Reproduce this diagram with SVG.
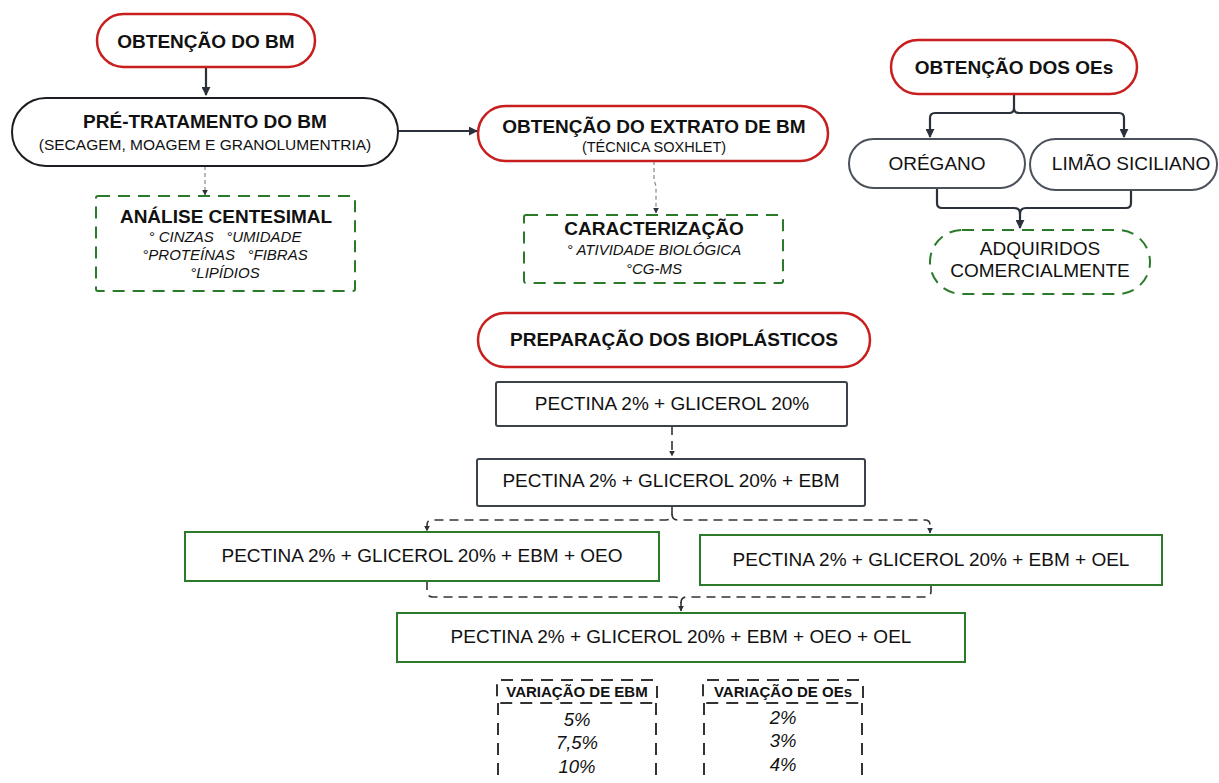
<svg xmlns="http://www.w3.org/2000/svg" width="1219" height="783" viewBox="0 0 1219 783">
<style>
.t{font-family:"Liberation Sans",Arial,sans-serif;fill:#111;text-anchor:middle}
.b{font-weight:bold;font-size:19px}
.r{font-size:19px}
.s{font-size:15px}
.i{font-style:italic;font-size:15px}
.red{fill:#fff;stroke:#c81e1e;stroke-width:2.5}
.blk{fill:#fff;stroke:#1a1d22;stroke-width:2}
.gry{fill:#fff;stroke:#4a515b;stroke-width:2}
.grnd{fill:#fff;stroke:#2a7a2a;stroke-width:2;stroke-dasharray:12 8}
.grn{fill:#fff;stroke:#2a7a2a;stroke-width:2}
.box{fill:#fff;stroke:#3b424c;stroke-width:2}
.c{fill:none;stroke:#2a313b;stroke-width:2.2}
.cd{fill:none;stroke:#333;stroke-width:1.6;stroke-dasharray:9 6}
.cg{fill:none;stroke:#888;stroke-width:1.2;stroke-dasharray:4 3}
.vd{fill:none;stroke:#333;stroke-width:2;stroke-dasharray:12 8}
</style>
<defs>
<marker id="a" viewBox="0 0 10 10" refX="9" refY="5" markerWidth="6" markerHeight="6" orient="auto" markerUnits="userSpaceOnUse"><path d="M0,0 L10,5 L0,10 z" fill="#2a313b"/></marker>
<marker id="al" viewBox="0 0 10 10" refX="9" refY="5" markerWidth="9" markerHeight="9" orient="auto" markerUnits="userSpaceOnUse"><path d="M0,0 L10,5 L0,10 z" fill="#2a313b"/></marker>
</defs>
<g id="connectors">
<path class="c" d="M206,67 V95" marker-end="url(#al)"/>
<path class="c" d="M398,131 H477" marker-end="url(#al)"/>
<path class="cg" d="M205,166 V195" marker-end="url(#a)"/>
<path class="cg" d="M654,161 V180 L656,186 V213" marker-end="url(#a)"/>
<path class="c" d="M1014,94 V108 Q1014,113 1009,113 H935 Q930,113 930,118 V137" marker-end="url(#al)"/>
<path class="c" d="M1014,108 Q1014,113 1019,113 H1119 Q1124,113 1124,118 V137" marker-end="url(#al)"/>
<path class="c" d="M937,188 V203 Q937,208 942,208 H1014 Q1020,208 1020,214 V228" marker-end="url(#al)"/>
<path class="c" d="M1131,190 V203 Q1131,208 1126,208 H1026 Q1020,208 1020,214"/>
<path class="cd" d="M672,426 V456" marker-end="url(#a)"/>
<path class="cd" d="M672,506 V514 Q672,520 666,520 H432 Q427,520 427,525 V531" marker-end="url(#a)"/>
<path class="cd" d="M672,514 Q672,520 678,520 H925 Q930,520 930,525 V533" marker-end="url(#a)"/>
<path class="cd" d="M427,581 V591 Q427,597 433,597 H675 Q681,597 681,603 V611" marker-end="url(#a)"/>
<path class="cd" d="M931,585 V591 Q931,597 925,597 H687 Q681,597 681,603"/>
</g>
<g id="obtencao-bm">
<rect class="red" x="97" y="14" width="218" height="53" rx="26.5"/>
<text class="t b" x="206" y="48">OBTENÇÃO DO BM</text>
</g>
<g id="pre-tratamento">
<rect class="blk" x="12" y="98" width="386" height="68" rx="34"/>
<text class="t b" x="205" y="128">PRÉ-TRATAMENTO DO BM</text>
<text class="t" x="205" y="150" style="font-size:15.5px">(SECAGEM, MOAGEM E GRANOLUMENTRIA)</text>
</g>
<g id="extrato">
<rect class="red" x="478" y="106" width="350" height="55" rx="27.5"/>
<text class="t b" x="654" y="133">OBTENÇÃO DO EXTRATO DE BM</text>
<text class="t" x="654" y="152" style="font-size:14.5px">(TÉCNICA SOXHLET)</text>
</g>
<g id="analise">
<rect class="grnd" x="96" y="196" width="259" height="95" rx="2"/>
<text class="t b" x="226" y="223">ANÁLISE CENTESIMAL</text>
<text class="t i" x="225" y="242" xml:space="preserve">° CINZAS   °UMIDADE</text>
<text class="t i" x="225" y="260" xml:space="preserve">°PROTEÍNAS   °FIBRAS</text>
<text class="t i" x="225" y="278">°LIPÍDIOS</text>
</g>
<g id="caracterizacao">
<rect class="grnd" x="524" y="215" width="259" height="68" rx="2"/>
<text class="t b" x="654" y="235">CARACTERIZAÇÃO</text>
<text class="t i" x="654" y="255">° ATIVIDADE BIOLÓGICA</text>
<text class="t i" x="654" y="274">°CG-MS</text>
</g>
<g id="obtencao-oes">
<rect class="red" x="891" y="40" width="246" height="54" rx="27"/>
<text class="t b" x="1014" y="74">OBTENÇÃO DOS OEs</text>
</g>
<g id="oregano">
<rect class="gry" x="849" y="139" width="176" height="49" rx="24.5"/>
<text class="t r" x="937" y="170">ORÉGANO</text>
</g>
<g id="limao">
<rect class="gry" x="1030" y="139" width="187" height="51" rx="25.5"/>
<text class="t r" x="1131" y="170">LIMÃO SICILIANO</text>
</g>
<g id="adquiridos">
<rect class="grnd" x="930" y="230" width="220" height="64" rx="32"/>
<text class="t r" x="1040" y="255">ADQUIRIDOS</text>
<text class="t r" x="1040" y="277">COMERCIALMENTE</text>
</g>
<g id="preparacao">
<rect class="red" x="478" y="313" width="392" height="54" rx="27"/>
<text class="t b" x="674" y="346">PREPARAÇÃO DOS BIOPLÁSTICOS</text>
</g>
<g id="p1">
<rect class="box" x="496" y="382" width="351" height="44" rx="2"/>
<text class="t r" x="672" y="410">PECTINA 2% + GLICEROL 20%</text>
</g>
<g id="p2">
<rect class="box" x="477" y="459" width="388" height="47" rx="2"/>
<text class="t r" x="671" y="487">PECTINA 2% + GLICEROL 20% + EBM</text>
</g>
<g id="p3">
<rect class="grn" x="185" y="532" width="474" height="49"/>
<text class="t r" x="422" y="562">PECTINA 2% + GLICEROL 20% + EBM + OEO</text>
</g>
<g id="p4">
<rect class="grn" x="700" y="535" width="462" height="50"/>
<text class="t r" x="931" y="566">PECTINA 2% + GLICEROL 20% + EBM + OEL</text>
</g>
<g id="p5">
<rect class="grn" x="397" y="613" width="568" height="49"/>
<text class="t r" x="681" y="643">PECTINA 2% + GLICEROL 20% + EBM + OEO + OEL</text>
</g>
<g id="variacao-ebm">
<rect class="vd" x="497" y="680" width="160" height="23" rx="4"/>
<path class="vd" d="M498,703 V790 M656,703 V790"/>
<text class="t b" x="577" y="697" style="font-size:15px">VARIAÇÃO DE EBM</text>
<text class="t" x="577" y="726" style="font-size:18.5px;font-style:italic">5%</text>
<text class="t" x="577" y="749" style="font-size:18.5px;font-style:italic">7,5%</text>
<text class="t" x="577" y="773" style="font-size:18.5px;font-style:italic">10%</text>
</g>
<g id="variacao-oes">
<rect class="vd" x="703" y="680" width="160" height="23" rx="4"/>
<path class="vd" d="M704,703 V790 M862,703 V790"/>
<text class="t b" x="783" y="697" style="font-size:15px">VARIAÇÃO DE OEs</text>
<text class="t" x="783" y="724" style="font-size:18.5px;font-style:italic">2%</text>
<text class="t" x="783" y="747" style="font-size:18.5px;font-style:italic">3%</text>
<text class="t" x="783" y="771" style="font-size:18.5px;font-style:italic">4%</text>
</g>
</svg>
